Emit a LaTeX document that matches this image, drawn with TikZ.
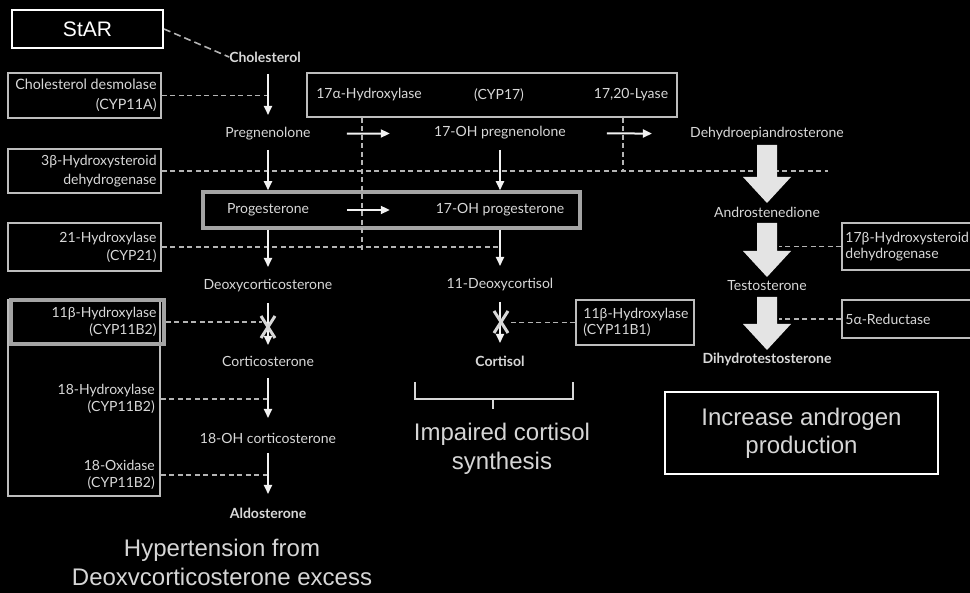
\documentclass[tikz,border=0pt]{standalone}
\usepackage{fontspec}
\setmainfont{Lato}
\newfontfamily\arialf{Liberation Sans}
\usetikzlibrary{arrows.meta,calc}
\definecolor{txtc}{HTML}{D8D8D8}
\definecolor{boxc}{HTML}{BDBDBD}
\definecolor{hlc}{HTML}{A4A4A4}
\definecolor{arrc}{HTML}{F2F2F2}
\definecolor{bigc}{HTML}{E4E4E4}
\definecolor{dshc}{HTML}{B4B4B4}
\definecolor{bigtxt}{HTML}{D6D6D6}
\newcommand\bigarr[2]{%
  \fill[bigc] ($(#1)+(-10,11)$) -- ($(#1)+(10,11)$) -- ($(#2)+(10,-35)$) -- ($(#2)+(24,-35)$)
    -- ($(#2)+(0,-9)$) -- ($(#2)+(-24,-35)$) -- ($(#2)+(-10,-35)$) -- cycle;}
\newcommand\xmark[1]{%
  \draw[line width=3pt, color=txtc] ($(#1)+(-7,-11)$) -- ($(#1)+(7,11)$);
  \draw[line width=3pt, color=txtc] ($(#1)+(7,-11)$) -- ($(#1)+(-7,11)$);}
\begin{document}
\begin{tikzpicture}[x=1pt,y=-1pt,
  met/.style={font=\fontsize{14}{16}\selectfont, text=txtc, inner sep=0pt},
  metb/.style={font=\fontsize{14}{16}\selectfont\bfseries, text=txtc, inner sep=0pt},
  ebox/.style={draw=boxc, line width=1.5pt, inner sep=0pt},
  etxr/.style={inner sep=0pt, text=txtc, align=right, anchor=east},
  etxl/.style={inner sep=0pt, text=txtc, align=left, anchor=west},
  hl/.style={draw=hlc, line width=3.5pt},
  dsh/.style={draw=dshc, line width=1.6pt, dash pattern=on 5pt off 3.5pt},
  arr/.style={draw=arrc, line width=2pt, -{Triangle[length=9pt,width=8pt]}},
  bigtext/.style={font=\arialf\fontsize{24}{29}\selectfont, text=bigtxt, align=center, inner sep=0pt},
  brk/.style={draw=txtc, line width=2.5pt}
]
\fill[black] (0,0) rectangle (970,593);
\useasboundingbox (0,0) rectangle (970,593);

% ---------- metabolites ----------
\node[metb] (chol) at (265,57) {Cholesterol};
\node[met] (preg) at (268,134) {Pregnenolone};
\node[met] (ohpreg) at (500,133) {17-OH pregnenolone};
\node[met] (dhea) at (767,134) {Dehydroepiandrosterone};
\node[draw=hlc, line width=3.5pt, minimum width=377pt, minimum height=36pt, inner sep=0pt] (progbox) at (391.5,210) {};
\node[met] (prog) at (268,210) {Progesterone};
\node[met] (ohprog) at (500,210) {17-OH progesterone};
\node[met] (andro) at (767,212) {Androstenedione};
\node[met] (doc) at (268,286) {Deoxycorticosterone};
\node[met] (dcortisol) at (500,285) {11-Deoxycortisol};
\node[met] (testo) at (767,286) {Testosterone};
\node[met] (cortico) at (268,361) {Corticosterone};
\node[metb] (cortisol) at (500,361) {Cortisol};
\node[metb] (dht) at (767,359) {Dihydrotestosterone};
\node[met] (ohcort) at (268,438) {18-OH corticosterone};
\node[metb] (aldo) at (268,513) {Aldosterone};

% ---------- StAR ----------
\node[draw=white, line width=2pt, minimum width=151pt, minimum height=38pt, inner sep=0pt,
      font=\arialf\fontsize{21}{24}\selectfont, text=white] (star) at (87.5,29) {StAR};
\draw[dsh, dash pattern=on 7pt off 4pt] (star.east) -- (chol.west);

% ---------- left enzyme boxes ----------
\node[ebox, minimum width=153pt, minimum height=45pt] (desm) at (84.5,95.5) {};
\node[etxr, font=\fontsize{14.3}{20}\selectfont] (desmt) at ($(desm.east)+(-5,0)$) {Cholesterol desmolase\\(CYP11A)};
\node[ebox, minimum width=153pt, minimum height=44pt] (hsd3) at (84.5,171) {};
\node[etxr, font=\fontsize{14}{19}\selectfont] (hsd3t) at ($(hsd3.east)+(-5,0)$) {3β-Hydroxysteroid\\dehydrogenase};
\node[ebox, minimum width=153pt, minimum height=48pt] (cyp21) at (84.5,247) {};
\node[etxr, font=\fontsize{14}{18}\selectfont] (cyp21t) at ($(cyp21.east)+(-5,0)$) {21-Hydroxylase\\(CYP21)};
\node[ebox, minimum width=152pt, minimum height=196pt] (bigbox) at (84,398) {};
\node[ebox, hl, minimum width=153pt, minimum height=44pt] (b2) at (87.5,322) {};
\node[etxr, font=\fontsize{14}{17}\selectfont] (b2t) at ($(b2.east)+(-9,0)$) {11β-Hydroxylase\\(CYP11B2)};
\node[etxr, font=\fontsize{14}{16.5}\selectfont] (h18) at (155,399) {18-Hydroxylase\\(CYP11B2)};
\node[etxr, font=\fontsize{14}{16.5}\selectfont] (ox18) at (155,475) {18-Oxidase\\(CYP11B2)};

% ---------- CYP17 ----------
\node[ebox, minimum width=370pt, minimum height=44pt] (cyp17) at (492,95) {};
\node[met] (h17a) at (369,95) {17α-Hydroxylase};
\node[met] (cyp17t) at (499,95) {(CYP17)};
\node[met] (lyase) at (631,95) {17,20-Lyase};

% ---------- right enzyme boxes ----------
\node[ebox, minimum width=118pt, minimum height=45pt] (b1) at (635,322.5) {};
\node[etxl, font=\fontsize{14}{16.5}\selectfont] (b1t) at ($(b1.west)+(8,0)$) {11β-Hydroxylase\\(CYP11B1)};
\node[ebox, minimum width=138pt, minimum height=47pt] (hsd17) at (911,246.5) {};
\node[etxl, font=\fontsize{14}{16.5}\selectfont] (hsd17t) at ($(hsd17.west)+(4,0)$) {17β-Hydroxysteroid\\dehydrogenase};
\node[ebox, minimum width=138pt, minimum height=38pt] (red5) at (911,319) {};
\node[etxl, font=\fontsize{14}{16}\selectfont] (red5t) at ($(red5.west)+(4,0)$) {5α-Reductase};

% ---------- dashed enzyme links ----------
\coordinate (hsdend) at (828,172);
\coordinate (v1) at (362,250);
\coordinate (v2) at (623,172);
\coordinate (xa) at (268,327);
\coordinate (xb) at (501,322);
\draw[dsh] (desm.east) -- (desm.east -| preg);
\draw[dsh] (hsd3.east) -- (hsd3.east -| hsdend);
\draw[dsh] (cyp21.east) -- (cyp21.east -| ohprog);
\draw[dsh] (b2.east) -- ($(b2.east -| xa)+(-6,0)$);
\draw[dsh] (bigbox.east |- h18) -- (h18 -| preg);
\draw[dsh] (bigbox.east |- ox18) -- (ox18 -| preg);
\draw[dsh] (b1.west) -- ($(b1.west -| xb)+(8,0)$);
\draw[dsh] (hsd17.west) -- ($(hsd17.west -| andro)+(12,0)$);
\draw[dsh] (red5.west) -- ($(red5.west -| testo)+(12,0)$);
\draw[dsh] (cyp17.south -| v1) -- (v1);
\draw[dsh] (cyp17.south -| v2) -- (v2);

% ---------- thin arrows ----------
\draw[arr] ($(chol)+(3,17)$) -- ($(preg)+(0,-19)$);
\draw[arr] ($(preg)+(0,16)$) -- (progbox.north -| preg);
\draw[arr] (progbox.south -| prog) -- ($(doc)+(0,-19)$);
\draw[arr] ($(doc)+(0,17)$) -- ($(cortico)+(0,-16)$);
\draw[arr] ($(cortico)+(0,17)$) -- ($(ohcort)+(0,-20)$);
\draw[arr] ($(ohcort)+(0,15)$) -- ($(aldo)+(0,-19)$);
\draw[arr] ($(preg)!0.34!(ohpreg)$) -- ($(preg)!0.525!(ohpreg)$);
\draw[arr] ($(prog)!0.34!(ohprog)$) -- ($(prog)!0.525!(ohprog)$);
\draw[arr] ($(ohpreg)!0.40!(dhea)$) -- ($(ohpreg)!0.569!(dhea)$);
\draw[arr] ($(ohpreg)+(0,17)$) -- (progbox.north -| ohpreg);
\draw[arr] (progbox.south -| ohprog) -- ($(dcortisol)+(0,-19)$);
\draw[arr] ($(dcortisol)+(0,17)$) -- ($(cortisol)+(0,-18)$);
\xmark{xa}
\xmark{xb}

% ---------- big arrows ----------
\bigarr{dhea}{andro}
\bigarr{andro}{testo}
\bigarr{testo}{dht}

% ---------- bracket and captions ----------
\coordinate (bl) at (415,382);
\coordinate (br) at (573,382);
\coordinate (bt) at (493,409);
\draw[brk] (bl) -- ($(bl)+(0,17)$) -- ($(br)+(0,17)$) -- (br);
\draw[brk] ($(bt)+(0,-10)$) -- (bt);
\node[bigtext] (impaired) at (502,448.5) {Impaired cortisol\\synthesis};
\node[bigtext] (hyper) at (222,562.5) {Hypertension from\\Deoxvcorticosterone excess};
\node[draw=white, line width=2.5pt, minimum width=273pt, minimum height=82pt, inner sep=0pt,
      font=\arialf\fontsize{24}{28}\selectfont, text=bigtxt, align=center] (incr) at (801.5,433) {Increase androgen\\production};
\end{tikzpicture}
\end{document}
